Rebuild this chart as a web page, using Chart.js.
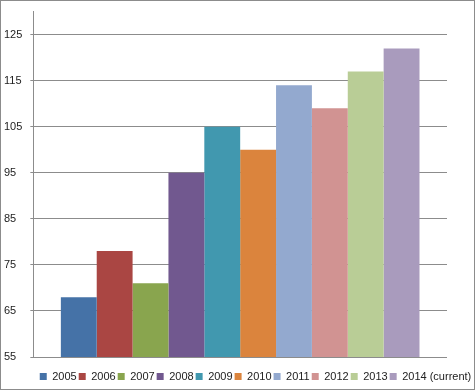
<!DOCTYPE html>
<html>
<head>
<meta charset="utf-8">
<script src="https://cdn.jsdelivr.net/npm/chart.js@4/dist/chart.umd.min.js"></script>
<style>
	html, body { margin: 0; padding: 0; background: #fff; }
	#wrap {
		width: 475px;
		height: 390px;
		box-sizing: border-box;
		border: 1px solid #8c8c8c;
		position: relative;
	}
	#myChart { display: block; }
</style>
</head>
<body>
<div id="wrap"><canvas id="myChart" width="473" height="388"></canvas></div>
<script>
// chart data
const years = ['2005', '2006', '2007', '2008', '2009', '2010', '2011', '2012', '2013', '2014 (current)'];
const values = [68, 78, 71, 95, 105, 100, 114, 109, 117, 122];
const yTicks = [55, 65, 75, 85, 95, 105, 115, 125];
const yMin = 55;
const yMax = 130;

const barColors = ['#4572a7', '#aa4643', '#89a54e', '#71588f', '#4198af',
	'#db843d', '#93a9cf', '#d19392', '#b9cd96', '#a99bbd'];

const textColor = '#222';
const lineColor = '#8c8c8c';
const font = { family: '"Liberation Sans", Arial, sans-serif', size: 11 };

// move the legend a bit right and down, like the excel original
const legendShift = {
	id: 'legendShift',
	afterLayout(chart) {
		const dx = 30, dy = 12;
		chart.legend.left += dx;
		chart.legend.right += dx;
		chart.legend.top += dy;
		chart.legend.bottom += dy;
	}
};

window.addEventListener('load', () => {
	const datasets = years.map((y, i) => ({
		label: y,
		data: [values[i]],
		backgroundColor: barColors[i],
		borderWidth: 0,
		barPercentage: 1,
		categoryPercentage: 0.867
	}));

	const ctx = document.getElementById('myChart').getContext('2d');
	new Chart(ctx, {
		type: 'bar',
		data: { labels: [''], datasets: datasets },
		options: {
			responsive: false,
			animation: false,
			layout: { padding: { left: 3, right: 27, top: 10, bottom: 9 } },
			plugins: {
				tooltip: { enabled: false },
				legend: {
					position: 'bottom',
					labels: {
						boxWidth: 7,
						boxHeight: 7,
						padding: 2,
						color: textColor,
						font: font
					}
				}
			},
			scales: {
				x: { display: false },
				y: {
					min: yMin,
					max: yMax,
					afterBuildTicks: axis => {
						axis.ticks = yTicks.map(v => ({ value: v }));
					},
					border: { color: lineColor },
					grid: { color: lineColor, tickLength: 3 },
					ticks: {
						crossAlign: 'far',
						padding: 4,
						color: textColor,
						font: font
					}
				}
			}
		},
		plugins: [legendShift]
	});
});
</script>
</body>
</html>
